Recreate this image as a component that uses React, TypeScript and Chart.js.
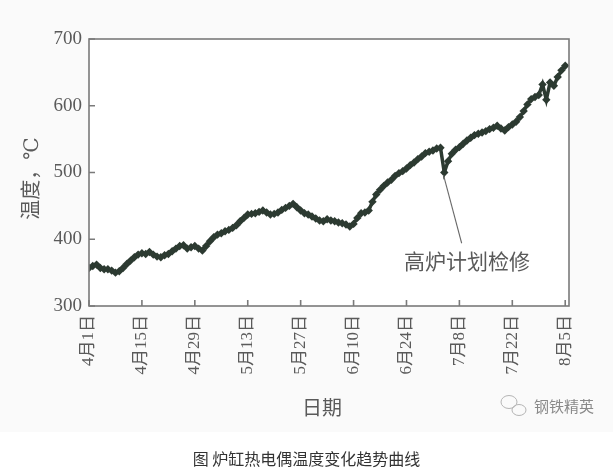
import React, { useEffect, useRef } from 'react';
import { Chart, registerables } from 'chart.js';

Chart.register(...registerables);

// Day offsets from 4月1日 and the thermocouple temperatures (°C)
const DAYS: number[] = [
  0, 1, 2, 3, 4, 5, 6, 7, 8, 9, 10, 11, 12, 13, 14, 15, 16, 17, 18, 19,
  20, 21, 22, 23, 24, 25, 26, 27, 28, 29, 30, 31, 32, 33, 34, 35, 36, 37, 38, 39,
  40, 41, 42, 43, 44, 45, 46, 47, 48, 49, 50, 51, 52, 53, 54, 55, 56, 57, 58, 59,
  60, 61, 62, 63, 64, 65, 66, 67, 68, 69, 70, 71, 72, 73, 74, 75, 76, 77, 78, 79,
  80, 81, 82, 83, 84, 85, 86, 87, 88, 89, 90, 91, 92, 93, 94, 95, 96, 97, 98, 99,
  100, 101, 102, 103, 104, 105, 106, 107, 108, 109, 110, 111, 112, 113, 114, 115, 116, 117, 118, 119,
  120, 121, 122, 123, 124, 125, 126,
];
const TEMPS: number[] = [
  357, 360, 362, 357, 355, 355, 353, 350, 352, 357, 363, 368, 373, 377, 379, 378, 381, 377, 374, 373,
  376, 378, 382, 386, 390, 391, 386, 388, 390, 386, 383, 390, 397, 403, 407, 409, 412, 414, 417, 421,
  427, 432, 437, 438, 439, 441, 443, 440, 437, 438, 440, 444, 447, 450, 453, 448, 443, 439, 437, 434,
  431, 428, 427, 430, 428, 427, 425, 424, 422, 419, 423, 432, 439, 440, 443, 456, 467, 474, 480, 485,
  489, 495, 499, 502, 506, 511, 515, 520, 524, 529, 531, 533, 536, 537, 500, 517, 528, 534, 538, 543,
  548, 552, 556, 558, 560, 562, 565, 567, 570, 566, 563, 568, 572, 576, 583, 592, 602, 610, 613, 616,
  632, 609, 635, 630, 643, 653, 660,
];

const TICK_DAYS: number[] = [0, 14, 28, 42, 56, 70, 84, 98, 112, 126];
const TICK_LABELS: string[] = ['4月1日', '4月15日', '4月29日', '5月13日', '5月27日', '6月10日', '6月24日', '7月8日', '7月22日', '8月5日'];
const Y_MIN = 300;
const Y_MAX = 700;
const Y_STEP = 100;
const X_MIN = 0;
const X_MAX = 127;

const Y_TITLE = '温度，℃';
const X_TITLE = '日期';
const ANNOTATION_TEXT = '高炉计划检修';
const ANNOTATION_POINT = { day: 93.8, temp: 496 };
const ANNOTATION_LINE_END = { day: 98.6, temp: 394 };
const ANNOTATION_LABEL = { day: 100, temp: 364 };
const WATERMARK = '钢铁精英';
const CAPTION = '图 炉缸热电偶温度变化趋势曲线';

const SERIF = '"Liberation Serif", "DejaVu Serif", "Noto Sans CJK SC", serif';
const AXIS_COLOR = '#7a7a7a';
const TEXT_COLOR = '#5a5a5a';
const DATA_COLOR = '#2c3a31';

const decorPlugin = {
  id: 'decor',
  beforeDraw(chart: any) {
    const { ctx, width } = chart;
    ctx.save();
    ctx.fillStyle = '#fafafa';
    ctx.fillRect(0, 0, width, 432);
    ctx.fillStyle = '#ffffff';
    const a = chart.chartArea;
    ctx.fillRect(a.left, a.top, a.right - a.left, a.bottom - a.top);
    ctx.restore();
  },
  afterDraw(chart: any) {
    const { ctx, chartArea: a, scales } = chart;
    const xs = scales.x;
    const ys = scales.y;
    ctx.save();
    // frame
    ctx.strokeStyle = AXIS_COLOR;
    ctx.lineWidth = 1.6;
    ctx.strokeRect(a.left, a.top, a.right - a.left, a.bottom - a.top);
    // inward ticks
    ctx.beginPath();
    xs.ticks.forEach((t: any) => {
      const px = xs.getPixelForValue(t.value);
      ctx.moveTo(px, a.bottom);
      ctx.lineTo(px, a.bottom - 6);
    });
    ys.ticks.forEach((t: any) => {
      const py = ys.getPixelForValue(t.value);
      ctx.moveTo(a.left, py);
      ctx.lineTo(a.left + 6, py);
    });
    ctx.stroke();

    // annotation
    ctx.strokeStyle = '#6a6a6a';
    ctx.lineWidth = 1.1;
    ctx.beginPath();
    ctx.moveTo(xs.getPixelForValue(ANNOTATION_POINT.day), ys.getPixelForValue(ANNOTATION_POINT.temp));
    ctx.lineTo(xs.getPixelForValue(ANNOTATION_LINE_END.day), ys.getPixelForValue(ANNOTATION_LINE_END.temp));
    ctx.stroke();
    ctx.fillStyle = TEXT_COLOR;
    ctx.font = `21px ${SERIF}`;
    ctx.textAlign = 'center';
    ctx.textBaseline = 'middle';
    ctx.fillText(ANNOTATION_TEXT, xs.getPixelForValue(ANNOTATION_LABEL.day), ys.getPixelForValue(ANNOTATION_LABEL.temp));

    // y title
    ctx.save();
    ctx.translate(33, (a.top + a.bottom) / 2 + 6);
    ctx.rotate(-Math.PI / 2);
    ctx.font = `20px ${SERIF}`;
    ctx.fillText(Y_TITLE, 0, 0);
    ctx.restore();

    // x title
    ctx.font = `20px ${SERIF}`;
    ctx.fillText(X_TITLE, (a.left + a.right) / 2 - 7, 410);

    // watermark
    ctx.strokeStyle = '#b5b5b5';
    ctx.lineWidth = 1;
    ctx.beginPath();
    ctx.ellipse(509, 402, 8, 6.5, 0, 0, Math.PI * 2);
    ctx.stroke();
    ctx.beginPath();
    ctx.ellipse(519, 410, 7, 5.5, 0, 0, Math.PI * 2);
    ctx.stroke();
    ctx.fillStyle = '#8a8a8a';
    ctx.font = '15px "Noto Sans CJK SC", sans-serif';
    ctx.textAlign = 'left';
    ctx.fillText(WATERMARK, 534, 406);
    ctx.restore();
  },
};

export default function App() {
  const canvasRef = useRef<HTMLCanvasElement | null>(null);

  useEffect(() => {
    const canvas = canvasRef.current;
    if (!canvas) return;
    const chart = new Chart(canvas, {
      type: 'line',
      data: {
        datasets: [
          {
            data: DAYS.map((d, i) => ({ x: d, y: TEMPS[i] })),
            borderColor: DATA_COLOR,
            backgroundColor: DATA_COLOR,
            borderWidth: 3.5,
            pointStyle: 'rectRot',
            pointRadius: 4.2,
            pointBorderWidth: 0,
            tension: 0,
          },
        ],
      },
      options: {
        responsive: false,
        animation: false,
        devicePixelRatio: 1,
        layout: { padding: { left: 0, right: 44, top: 39, bottom: 0 } },
        plugins: { legend: { display: false }, tooltip: { enabled: false }, title: { display: false } },
        scales: {
          x: {
            type: 'linear',
            min: X_MIN,
            max: X_MAX,
            afterBuildTicks: (s: any) => {
              s.ticks = TICK_DAYS.map((v) => ({ value: v }));
            },
            afterFit: (s: any) => {
              s.height = 169;
            },
            grid: { display: false, drawTicks: false },
            border: { display: false },
            ticks: {
              autoSkip: false,
              minRotation: 90,
              maxRotation: 90,
              padding: 9,
              color: TEXT_COLOR,
              font: { family: SERIF, size: 17 },
              callback: (v: any) => {
                const i = TICK_DAYS.indexOf(Number(v));
                return i >= 0 ? TICK_LABELS[i] : '';
              },
            },
          },
          y: {
            type: 'linear',
            min: Y_MIN,
            max: Y_MAX,
            afterFit: (s: any) => {
              s.width = 89;
            },
            grid: { display: false, drawTicks: false },
            border: { display: false },
            ticks: {
              stepSize: Y_STEP,
              padding: 7,
              color: TEXT_COLOR,
              font: { family: SERIF, size: 19 },
            },
          },
        },
      },
      plugins: [decorPlugin],
    });
    return () => chart.destroy();
  }, []);

  return (
    <div style={{ position: 'fixed', left: 0, top: 0, width: 613, height: 475, background: '#ffffff' }}>
      <canvas ref={canvasRef} width={613} height={475} style={{ position: 'absolute', left: 0, top: 0 }} />
      <div
        style={{
          position: 'absolute',
          left: 0,
          top: 447,
          width: 613,
          textAlign: 'center',
          fontFamily: '"Noto Sans CJK SC", sans-serif',
          fontSize: 16,
          lineHeight: '22px',
          color: '#333333',
        }}
      >
        {CAPTION}
      </div>
    </div>
  );
}
